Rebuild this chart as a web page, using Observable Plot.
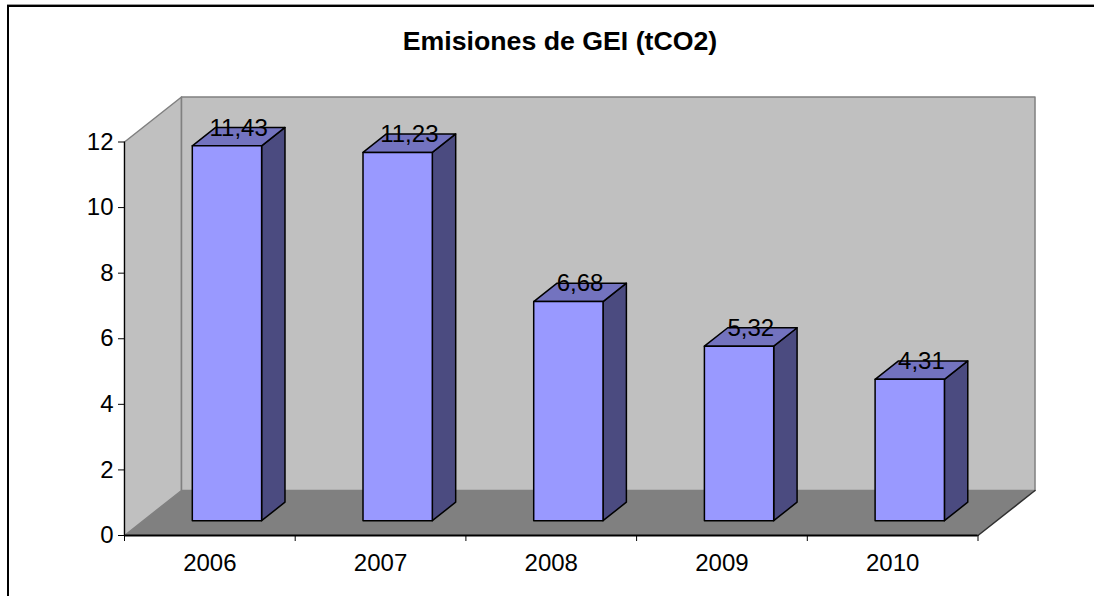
<!DOCTYPE html>
<html>
<head>
<meta charset="utf-8">
<script src="https://cdn.jsdelivr.net/npm/d3@7"></script>
<script src="https://cdn.jsdelivr.net/npm/@observablehq/plot@0.6"></script>
<style>
html, body { margin: 0; padding: 0; background: #fff; }
#wrap { position: relative; width: 1094px; height: 596px; overflow: hidden; font-family: "Liberation Sans", Arial, sans-serif; }
#border { position: absolute; left: 7px; top: 5px; width: 1200px; height: 700px; border-top: 2px solid #000; border-left: 2px solid #000; box-shadow: 0 -1px 0 #999; }
#title { position: absolute; left: 0; top: 28px; width: 1120px; text-align: center; font-weight: bold; font-size: 26.7px; line-height: 26.7px; color: #000; }
#chart { position: absolute; left: 0; top: 0; }
</style>
</head>
<body>
<div id="wrap">
  <div id="border"></div>
  <div id="chart"></div>
  <div id="title">Emisiones de GEI (tCO2)</div>
</div>
<script>
// ---- data ----
const years = ["2006", "2007", "2008", "2009", "2010"];
const values = [11.43, 11.23, 6.68, 5.32, 4.31];
const yTicks = [0, 2, 4, 6, 8, 10, 12];

// ---- 3D projection (in data units) ----
const yMax = yTicks[yTicks.length - 1];
const nCat = years.length;
const DX = 0.334, DY = 1.372;       // full depth offset
const F1 = 0.33, F2 = 0.74;         // bar front/back depth
const B0 = 0.287, B1 = 0.693;       // bar left/right within category
const FM = (F1 + F2) / 2;
const P = (c, v, f, id) => ({x: c + f * DX, y: v + f * DY, id});

const leftWall = [P(0, 0, 0), P(0, yMax, 0), P(0, yMax, 1), P(0, 0, 1)];
const backWall = [P(0, 0, 1), P(nCat, 0, 1), P(nCat, yMax, 1), P(0, yMax, 1)];
const floor = [P(0, 0, 0), P(nCat, 0, 0), P(nCat, 0, 1), P(0, 0, 1)];
const floorEdge = [P(nCat, 0, 0), P(nCat, 0, 1)];

const rows = years.map((year, i) => ({year, value: values[i], i}));
const fronts = rows.flatMap(({value: v, i}) => [
  P(i + B0, 0, F1, i), P(i + B1, 0, F1, i), P(i + B1, v, F1, i), P(i + B0, v, F1, i)
]);
const tops = rows.flatMap(({value: v, i}) => [
  P(i + B0, v, F1, i), P(i + B1, v, F1, i), P(i + B1, v, F2, i), P(i + B0, v, F2, i)
]);
const sides = rows.flatMap(({value: v, i}) => [
  P(i + B1, 0, F1, i), P(i + B1, 0, F2, i), P(i + B1, v, F2, i), P(i + B1, v, F1, i)
]);

const fmt = v => v.toFixed(2).replace(".", ",");
const face = (data, fill, stroke, sw) =>
  Plot.line(data, {x: "x", y: "y", z: "id", curve: "linear-closed", fill, stroke, strokeWidth: sw, strokeLinejoin: "round"});

const FS = 24;
const chart = Plot.plot({
  width: 1094,
  height: 596,
  marginLeft: 124,
  marginRight: 1094 - 977.5,
  marginTop: 141.5,
  marginBottom: 596 - 535,
  x: {domain: [0, nCat]},
  y: {domain: [0, yMax]},
  style: {fontFamily: "Liberation Sans, Arial, sans-serif", fontSize: FS + "px", background: "transparent", overflow: "visible", color: "#000"},
  marks: [
    face(leftWall, "#c0c0c0", "#808080", 1.5),
    face(backWall, "#c0c0c0", "#808080", 1.5),
    face(floor, "#808080", "none", 0),
    Plot.line(floorEdge, {x: "x", y: "y", stroke: "#303030", strokeWidth: 1.5}),
    face(sides, "#4b4b80", "#000", 1.5),
    face(tops, "#7373bf", "#000", 1.5),
    face(fronts, "#9999ff", "#000", 1.5),
    Plot.ruleX([0], {y1: 0, y2: yMax, stroke: "#000", strokeWidth: 1.2}),
    Plot.ruleY([0], {x1: 0, x2: nCat, stroke: "#000", strokeWidth: 2}),
    Plot.axisY({ticks: yTicks, tickSize: 6, tickPadding: 5, label: null, fontSize: FS, stroke: "#000"}),
    Plot.axisX({ticks: d3.range(0, nCat + 1), tickSize: 6, tickFormat: () => "", label: null, stroke: "#000"}),
    Plot.axisX({ticks: years.map((_, i) => i + 0.5), tickSize: 0, tickPadding: 18, tickFormat: d => years[Math.floor(d)], label: null, fontSize: FS}),
    Plot.text(rows, {
      x: d => d.i + (B0 + B1) / 2 + FM * DX,
      y: d => d.value + FM * DY,
      text: d => fmt(d.value),
      lineAnchor: "bottom",
      dy: -1,
      fontSize: FS,
      fill: "#000"
    })
  ]
});
document.getElementById("chart").appendChild(chart);
</script>
</body>
</html>
